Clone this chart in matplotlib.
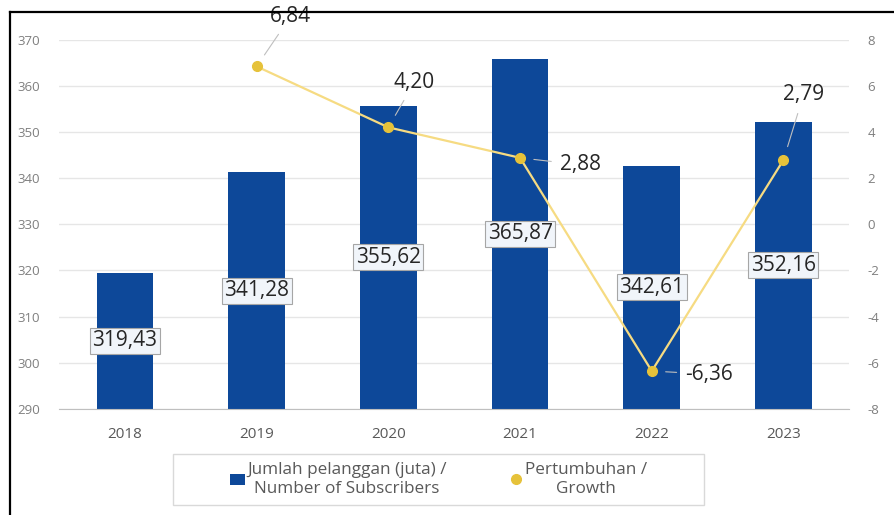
import matplotlib.pyplot as plt
import numpy as np
from matplotlib.lines import Line2D
from matplotlib.patches import Patch, Rectangle

plt.rcParams["font.family"] = ["Open Sans", "DejaVu Sans"]
plt.rcParams["axes.unicode_minus"] = False

years = ["2018", "2019", "2020", "2021", "2022", "2023"]
subscribers = [319.43, 341.28, 355.62, 365.87, 342.61, 352.16]
growth = [np.nan, 6.84, 4.20, 2.88, -6.36, 2.79]

sub_labels = ["319,43", "341,28", "355,62", "365,87", "342,61", "352,16"]
growth_labels = ["", "6,84", "4,20", "2,88", "-6,36", "2,79"]

BAR_COLOR = "#0D4899"
LINE_COLOR = "#F6DB82"
MARKER_COLOR = "#E6C23A"
TICK_GREY = "#7F7F7F"

fig = plt.figure(figsize=(8.95, 5.15), dpi=100)
ax = fig.add_axes([0.066, 0.206, 0.883, 0.717])
ax2 = ax.twinx()

x = np.arange(len(years))
ymin = 290

# Bars
ax.bar(x, np.array(subscribers) - ymin, bottom=ymin, width=0.43,
       color=BAR_COLOR, zorder=2)
ax.set_ylim(290, 370)
ax.set_yticks(np.arange(290, 371, 10))
ax.set_xlim(-0.5, len(years) - 0.5)
ax.set_xticks(x)
ax.set_xticklabels(years)
ax.grid(axis="y", color="#E6E6E6", lw=1, zorder=0)
ax.set_axisbelow(True)

for spine in ["top", "left", "right"]:
    ax.spines[spine].set_visible(False)
    ax2.spines[spine].set_visible(False)
ax.spines["bottom"].set_color("#BFBFBF")
ax2.spines["bottom"].set_visible(False)

ax.tick_params(axis="x", length=0, labelsize=11, labelcolor="#595959", pad=13)
ax.tick_params(axis="y", length=0, labelsize=9.5, labelcolor=TICK_GREY, pad=14)

# Bar value labels, centred in the visible part of each bar
for xi, val, lab in zip(x, subscribers, sub_labels):
    ax.text(xi, (ymin + val) / 2, lab, ha="center", va="center", fontsize=15,
            color="#262626", zorder=5,
            bbox=dict(boxstyle="square,pad=0.12", fc="#F1F5FA", ec="#A6A6A6", lw=0.8))

# Growth line on the secondary axis
ax2.plot(x, growth, color=LINE_COLOR, lw=1.6, zorder=3)
ax2.plot(x, growth, "o", color=MARKER_COLOR, ms=7, zorder=4)
ax2.set_ylim(-8, 8)
ax2.set_yticks(np.arange(-8, 9, 2))
ax2.tick_params(axis="y", length=0, labelsize=9.5, labelcolor=TICK_GREY, pad=13)

offsets = [None, (34, 50), (26, 45), (60, -7), (57, -3), (20, 65)]
for xi, val, lab, off in zip(x, growth, growth_labels, offsets):
    if off is None:
        continue
    ax2.annotate(lab, (xi, val), xytext=off, textcoords="offset pixels",
                 ha="center", va="center", fontsize=15, color="#262626",
                 arrowprops=dict(arrowstyle="-", color="#BFBFBF", lw=0.8,
                                 shrinkA=4, shrinkB=10))

# Legend (frame drawn separately so it can be wider than the entries)
fig.add_artist(Rectangle((0.193, 0.019), 0.594, 0.099, transform=fig.transFigure,
                         fill=False, ec="#D9D9D9", lw=1))
handles = [
    Patch(facecolor=BAR_COLOR),
    Line2D([], [], color=LINE_COLOR, marker="o", markerfacecolor=MARKER_COLOR,
           markeredgecolor=MARKER_COLOR, ms=7, lw=0),
]
labels = ["Jumlah pelanggan (juta) /\nNumber of Subscribers",
          "Pertumbuhan /\nGrowth"]
leg = fig.legend(handles, labels, loc="center", bbox_to_anchor=(0.49, 0.069),
                 ncol=2, frameon=False, fontsize=12.3,
                 handlelength=0.9, handletextpad=0.1, columnspacing=3.6,
                 borderpad=0.3, labelcolor="#595959")
for t in leg.get_texts():
    t.set_multialignment("center")

# Outer frame lines (top and left)
fig.add_artist(Line2D([0.011, 1.0], [0.977, 0.977], color="black", lw=1.6,
                      transform=fig.transFigure))
fig.add_artist(Line2D([0.011, 0.011], [0.0, 0.977], color="black", lw=1.6,
                      transform=fig.transFigure))

fig.savefig("out.png", dpi=100)
